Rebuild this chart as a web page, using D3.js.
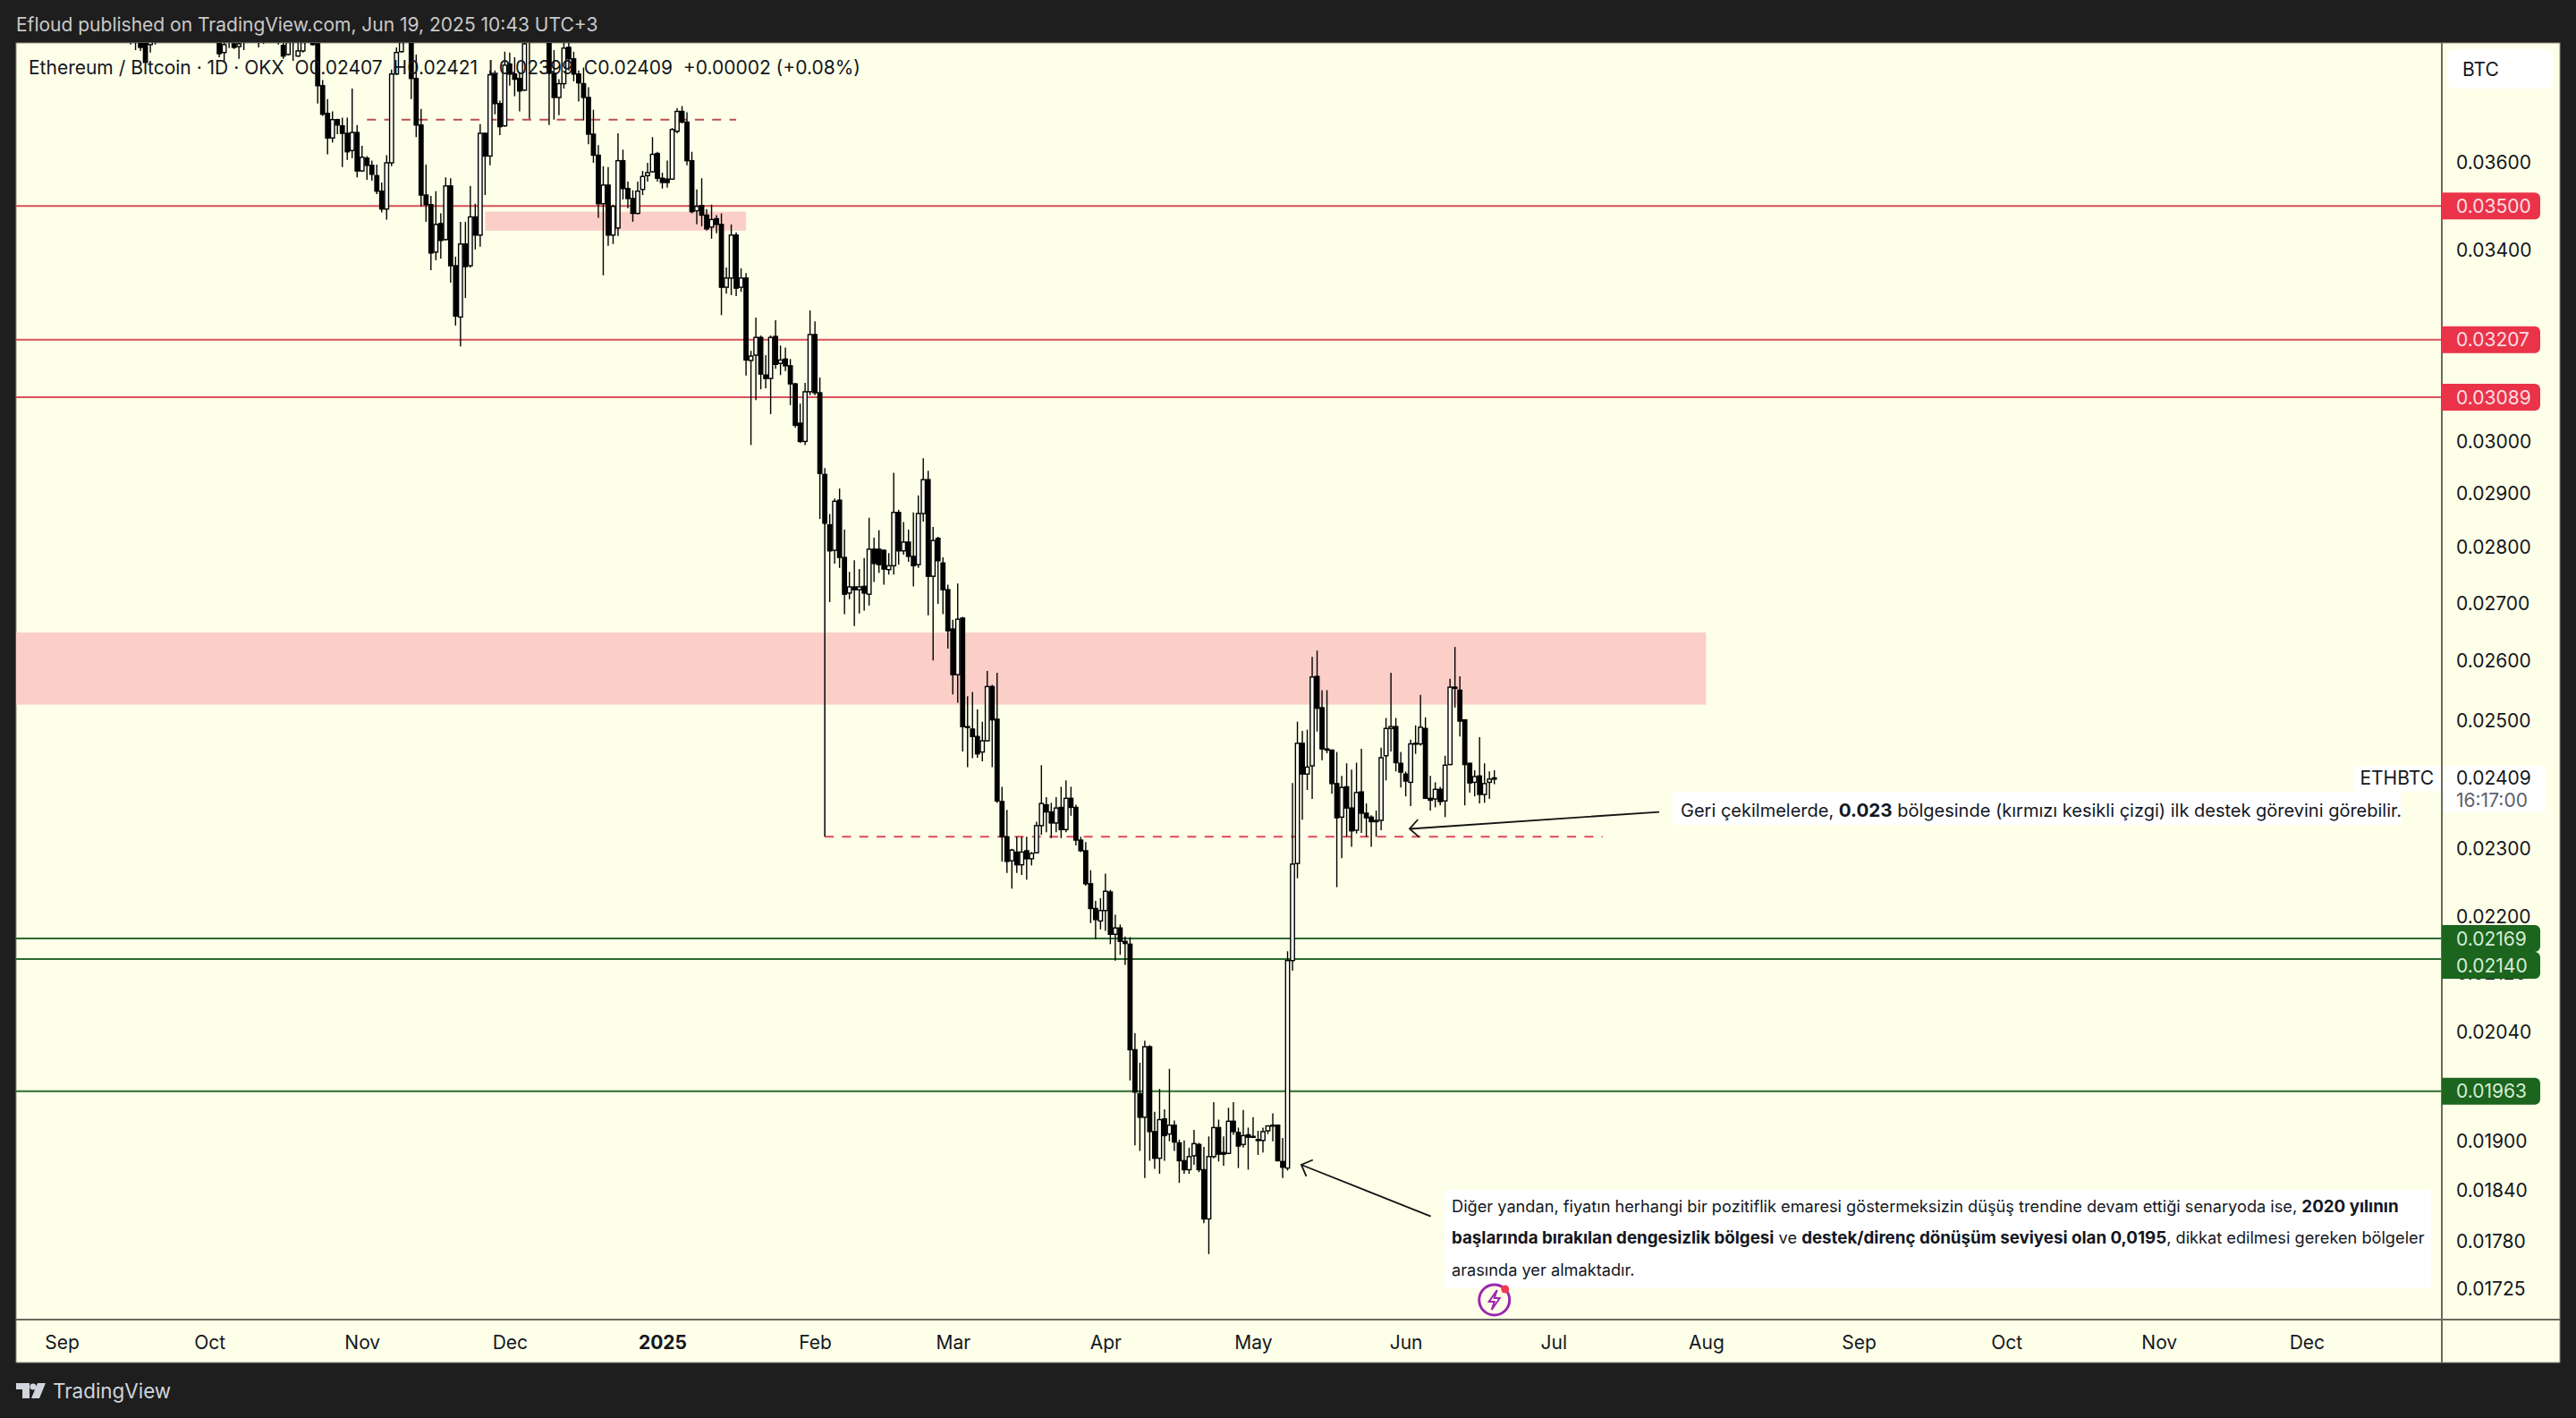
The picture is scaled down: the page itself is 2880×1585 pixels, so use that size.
<!DOCTYPE html>
<html>
<head>
<meta charset="utf-8">
<script src="https://cdn.jsdelivr.net/npm/d3@7"></script>
<style>
  html, body { margin: 0; padding: 0; background: #1e1e1e; }
  svg { display: block; }
  text { font-family: Inter, "Noto Sans", sans-serif; }
</style>
</head>
<body>
<div id="chart"></div>
<script>
// ETHBTC daily bars, one entry per day from 2024-09-15 to 2025-06-19.
// null = the whole bar sits above the visible window
const firstBar = '2024-09-15';
const opens = [
  0.0392,0.0392,0.0394,0.03898,0.03889,0.0392,null,null,null,null,
  null,null,null,null,null,null,null,null,0.0391,0.03869,
  0.0392,0.03891,0.03884,0.0392,null,null,0.0392,0.0392,null,null,
  0.0392,0.03887,0.03864,0.0392,0.0386,0.03873,null,0.03894,0.03891,0.03786,
  0.03718,0.03659,0.03703,0.03688,0.0367,0.03629,0.03672,0.03581,0.03611,0.03594,
  0.0357,0.03534,0.03493,0.036,0.03815,0.03871,null,0.0393,0.03804,0.0369,
  0.03525,0.03503,0.03396,0.0346,0.03424,0.03546,0.03366,0.03255,0.03414,0.03366,
  0.03475,0.03434,0.0367,0.03616,0.03813,0.03742,0.03688,0.0384,0.03815,0.03804,
  0.03775,0.0393,null,null,null,0.0392,0.03817,0.03757,0.03791,0.03882,
  0.03853,0.03815,0.03791,0.03757,0.03668,0.03618,0.03505,0.03548,0.03434,0.0345,
  0.03605,0.0354,0.03517,0.03483,0.03538,0.0357,0.03579,0.03622,0.03564,0.03562,
  0.03562,0.03675,0.03723,0.03697,0.03605,0.03489,0.03501,0.03479,0.03452,0.03471,
  0.03458,0.03319,0.03339,0.03434,0.03319,0.03339,0.03164,0.03175,0.03212,0.03134,
  0.03127,0.03214,0.03158,0.03167,0.03153,0.03116,0.03037,0.03001,0.031,0.03218,
  0.03098,0.02937,0.02842,0.02795,0.02888,0.02782,0.02718,0.02729,0.02724,0.0273,
  0.02716,0.02797,0.02797,0.02795,0.0276,0.02767,0.02865,0.02794,0.0281,0.02784,
  0.02769,0.02863,0.02927,0.02748,0.02817,0.02772,0.02724,0.02655,0.02577,0.02674,
  0.02491,0.02487,0.02475,0.0245,0.02468,0.02557,0.02503,0.02372,0.02318,0.02282,
  0.02295,0.02276,0.02297,0.02285,0.02294,0.02335,0.02367,0.02356,0.02339,0.02363,
  0.02329,0.02377,0.02363,0.02313,0.02297,0.02248,0.02212,0.02194,0.02209,0.02236,
  0.02175,0.02184,0.02165,0.02161,0.02017,0.0196,0.0193,0.02021,0.01912,0.01879,
  0.01928,0.01909,0.0192,0.01898,0.01876,0.01865,0.01882,0.01896,0.01865,0.01806,
  0.01881,0.01917,0.01886,0.01885,0.01925,0.01911,0.01896,0.01908,0.01906,0.01902,
  0.01901,0.01913,0.0192,0.0192,0.01875,0.01867,0.02138,0.02278,0.02464,0.02415,
  0.02428,0.02574,0.02522,0.02455,0.02453,0.024,0.02348,0.02395,0.02362,0.02328,
  0.02387,0.02354,0.02348,0.02341,0.02343,0.02444,0.02488,0.02491,0.02432,0.02415,
  0.02402,0.02463,0.02463,0.02488,0.02377,0.02376,0.02391,0.02373,0.0243,0.02554,
  0.02551,0.02502,0.02432,0.02402,0.02412,0.02383,0.02402,0.02407
];
const highs = [
  0.0398,0.0396,0.0398,0.0392,0.0394,0.0396,null,null,null,null,
  null,null,null,null,null,null,null,null,0.0394,0.0392,
  0.0396,0.0392,0.0392,0.0396,null,null,0.0395,0.0395,null,null,
  0.0395,0.0392,0.0392,0.0395,0.03894,0.0392,null,0.0392,0.0395,0.038,
  0.03753,0.03723,0.03705,0.03708,0.03708,0.03779,0.0369,0.0364,0.03616,0.03605,
  0.03596,0.03554,0.03618,0.03826,0.03882,0.0392,null,0.0396,0.03864,0.03729,
  0.03596,0.03523,0.03534,0.03483,0.03566,0.03564,0.03386,0.03464,0.03464,0.03546,
  0.03505,0.03692,0.03672,0.03824,0.03824,0.03749,0.03871,0.03869,0.03857,0.0382,
  0.0392,0.0396,null,null,null,0.0395,0.03875,0.03802,0.03894,0.03894,
  0.03871,0.03824,0.03831,0.03782,0.03727,0.03642,0.03592,0.0359,0.03503,0.0367,
  0.03631,0.03556,0.03536,0.03556,0.03581,0.036,0.03661,0.03626,0.03577,0.03605,
  0.03683,0.03731,0.03736,0.03721,0.03626,0.03538,0.03564,0.03493,0.03503,0.03479,
  0.03483,0.03362,0.03458,0.0344,0.0336,0.0335,0.03184,0.03254,0.03216,0.03175,
  0.03216,0.03248,0.03195,0.03191,0.03167,0.03118,0.03076,0.03118,0.03269,0.03246,
  0.03129,0.02949,0.02862,0.02891,0.0291,0.02833,0.02756,0.02777,0.02761,0.02781,
  0.02855,0.02818,0.02832,0.02797,0.0279,0.0294,0.0287,0.02847,0.02833,0.02865,
  0.02897,0.02968,0.02944,0.02838,0.0282,0.02782,0.02733,0.02671,0.02735,0.02676,
  0.02541,0.02548,0.02519,0.02499,0.02583,0.0256,0.0258,0.02395,0.02359,0.023,
  0.02318,0.02318,0.02318,0.02295,0.02341,0.02429,0.02379,0.0237,0.02379,0.02395,
  0.02405,0.02395,0.02367,0.02318,0.0231,0.02268,0.02223,0.02227,0.02263,0.02239,
  0.02203,0.02189,0.02172,0.02171,0.02039,0.02,0.02029,0.02023,0.01937,0.01966,
  0.0194,0.01992,0.01926,0.01902,0.01901,0.01892,0.01914,0.01898,0.01893,0.01906,
  0.01949,0.01927,0.01906,0.01942,0.01949,0.01917,0.01939,0.01917,0.0193,0.01913,
  0.01917,0.0192,0.01935,0.01921,0.01904,0.02151,0.02401,0.02499,0.02484,0.02486,
  0.02607,0.02618,0.02551,0.02551,0.02454,0.0245,0.02412,0.02432,0.02422,0.02433,
  0.02455,0.02369,0.02351,0.02358,0.02457,0.02505,0.0258,0.02505,0.0245,0.02419,
  0.0247,0.02493,0.02543,0.02506,0.02412,0.02402,0.02395,0.02444,0.0257,0.02624,
  0.02574,0.02503,0.02433,0.02421,0.02474,0.02432,0.02419,0.02421
];
const lows = [
  0.03889,0.03875,0.03873,0.03842,0.03869,0.03889,null,null,null,null,
  null,null,null,null,null,null,null,null,0.03857,0.03846,
  0.0388,0.03878,0.03853,0.03875,null,null,0.03882,0.03891,null,null,
  0.03889,0.03853,0.03862,0.03848,0.03858,0.03869,null,0.03887,0.03742,0.03712,
  0.0362,0.03648,0.03668,0.0359,0.03607,0.03611,0.03566,0.03579,0.0356,0.03558,
  0.03527,0.03485,0.03469,0.03592,0.03813,0.03869,null,0.03753,0.03661,0.03499,
  0.03464,0.03356,0.03378,0.03382,0.03422,0.03329,0.03237,0.03193,0.03296,0.03362,
  0.03402,0.03408,0.03525,0.03594,0.03716,0.03666,0.03686,0.03786,0.0376,0.03723,
  0.03773,0.03705,null,null,null,0.0369,0.03703,0.03714,0.03779,0.03824,
  0.03797,0.03747,0.03701,0.03644,0.036,0.03473,0.03345,0.0341,0.03414,0.03432,
  0.03515,0.03495,0.03464,0.03481,0.03525,0.03556,0.03577,0.03556,0.0354,0.03542,
  0.0356,0.0367,0.03694,0.03594,0.03483,0.03458,0.03454,0.03444,0.03426,0.03438,
  0.03259,0.03305,0.03302,0.033,0.03309,0.03133,0.02994,0.03083,0.03105,0.03107,
  0.03055,0.03147,0.03134,0.03142,0.03073,0.03028,0.02998,0.02994,0.03093,0.03093,
  0.02853,0.02842,0.02702,0.02771,0.02763,0.02681,0.02707,0.0266,0.02682,0.02687,
  0.02696,0.02738,0.02754,0.02733,0.02751,0.02751,0.02769,0.02787,0.02774,0.0273,
  0.02763,0.02848,0.02679,0.02601,0.02699,0.02681,0.02621,0.02544,0.0253,0.02451,
  0.02426,0.0244,0.02441,0.02435,0.02467,0.02426,0.0237,0.02281,0.02264,0.02241,
  0.02264,0.02261,0.02254,0.02275,0.02293,0.02321,0.02325,0.02316,0.02325,0.02316,
  0.02325,0.0235,0.02305,0.02295,0.02245,0.02191,0.02168,0.02182,0.0218,0.02161,
  0.02138,0.02146,0.02132,0.01977,0.01895,0.01888,0.01855,0.01876,0.01866,0.0186,
  0.01876,0.019,0.01888,0.01849,0.0186,0.0186,0.01871,0.01862,0.01801,0.01765,
  0.01879,0.01875,0.0187,0.01884,0.01908,0.01867,0.01892,0.01865,0.01904,0.01883,
  0.01886,0.01909,0.019,0.01875,0.01855,0.01864,0.02124,0.02256,0.02344,0.0239,
  0.02376,0.02483,0.02437,0.02448,0.02384,0.02243,0.02286,0.02318,0.02303,0.02323,
  0.02324,0.02318,0.02303,0.02318,0.02328,0.02405,0.02451,0.02419,0.02394,0.0238,
  0.02365,0.02447,0.0246,0.02376,0.02358,0.02363,0.02366,0.02348,0.02429,0.02522,
  0.02475,0.02366,0.02386,0.0238,0.02369,0.0237,0.02376,0.02399
];
const closes = [
  0.0394,0.0394,0.03882,0.03844,0.03912,0.0394,null,null,null,null,
  null,null,null,null,null,null,null,null,0.03866,0.03889,
  0.0394,0.03882,0.03891,0.0394,null,null,0.0394,0.0394,null,null,
  0.0394,0.0386,0.03894,0.0394,0.03873,0.03894,null,0.03889,0.03786,0.03716,
  0.03659,0.03703,0.0369,0.0367,0.03626,0.03672,0.03581,0.03613,0.03594,0.03573,
  0.03534,0.03493,0.036,0.03815,0.03869,0.03894,null,0.03804,0.0369,0.03525,
  0.03503,0.03394,0.03458,0.03422,0.03546,0.03366,0.03257,0.03414,0.03364,0.03475,
  0.03434,0.0367,0.03616,0.03813,0.03742,0.03686,0.03837,0.03815,0.03802,0.03773,
  0.03891,0.0392,null,null,null,0.03817,0.03757,0.03791,0.0388,0.03853,
  0.03815,0.03793,0.03757,0.03668,0.03618,0.03505,0.03548,0.03434,0.03499,0.03605,
  0.0354,0.03517,0.03483,0.03534,0.03568,0.03577,0.0362,0.03564,0.03554,0.03554,
  0.03679,0.03723,0.03697,0.03605,0.03487,0.03499,0.03479,0.03448,0.03469,0.03458,
  0.03319,0.03339,0.03434,0.03317,0.03339,0.03165,0.03173,0.03212,0.03136,0.03127,
  0.03212,0.03156,0.03165,0.03153,0.03116,0.03033,0.03001,0.031,0.03218,0.03098,
  0.02939,0.02845,0.02794,0.02886,0.02782,0.02716,0.02729,0.02724,0.02729,0.02718,
  0.02797,0.02771,0.02769,0.02761,0.02767,0.02865,0.02794,0.0281,0.02784,0.02767,
  0.02863,0.02927,0.02748,0.02813,0.02776,0.02724,0.02652,0.02577,0.02672,0.02491,
  0.0249,0.02475,0.02447,0.02468,0.02557,0.02502,0.02373,0.02318,0.02281,0.02298,
  0.02276,0.02295,0.02285,0.02293,0.02335,0.02369,0.02356,0.02339,0.02362,0.02329,
  0.02377,0.02363,0.02313,0.02297,0.02248,0.02212,0.02196,0.02209,0.02237,0.02175,
  0.02184,0.02165,0.02162,0.02017,0.01962,0.0193,0.02021,0.01912,0.01879,0.01927,
  0.01907,0.0192,0.01899,0.01876,0.01865,0.01881,0.01897,0.01865,0.01806,0.01881,
  0.01917,0.01884,0.01884,0.01925,0.01912,0.01894,0.01907,0.01905,0.01905,0.01901,
  0.01912,0.01919,0.01919,0.01876,0.01868,0.02138,0.02277,0.02464,0.02415,0.02426,
  0.02573,0.02521,0.02455,0.02453,0.024,0.02347,0.02394,0.02362,0.02327,0.02386,
  0.02354,0.02347,0.02341,0.02343,0.02441,0.02488,0.02491,0.02433,0.02418,0.02404,
  0.02463,0.02464,0.0249,0.02377,0.02374,0.02391,0.02372,0.02429,0.02556,0.02556,
  0.025,0.0243,0.02401,0.02411,0.02383,0.024,0.02407,0.02409
];

const priceTicks = [0.036, 0.034, 0.03, 0.029, 0.028, 0.027, 0.026, 0.025, 0.023, 0.022, 0.0212, 0.0204, 0.019, 0.0184, 0.0178, 0.01725];
const monthTicks = ['2024-09-01','2024-10-01','2024-11-01','2024-12-01','2025-01-01','2025-02-01','2025-03-01','2025-04-01','2025-05-01','2025-06-01','2025-07-01','2025-08-01','2025-09-01','2025-10-01','2025-11-01','2025-12-01'];
const monthLabels = ['Sep','Oct','Nov','Dec','2025','Feb','Mar','Apr','May','Jun','Jul','Aug','Sep','Oct','Nov','Dec'];

// horizontal levels the author drew, with their price tags
const redLevels = [0.035, 0.03207, 0.03089];
const greenLevels = [0.02169, 0.0214, 0.01963];
const lastClose = 0.02409;

// supply zones: [start date, end date, top price, bottom price]
const zones = [
  ['2024-08-01', '2025-08-01', 0.02649, 0.02527],
  ['2024-11-26', '2025-01-18', 0.03487, 0.03444]
];
// dashed levels: [start date, end date, price]
const dashedTop = ['2024-11-02', '2025-01-16', 0.03703];
const dashedSupport = ['2025-02-03', '2025-07-11', 0.02318];
const supportStem = ['2025-02-03', 0.02845, 0.02318];

const arrowOne = { from: ['2025-07-22T12:00Z', 0.02356], to: ['2025-06-01T19:00Z', 0.0233] };
const arrowTwo = { from: ['2025-06-06T02:00Z', 0.01809], to: ['2025-05-10T19:00Z', 0.01871] };

const noteOne = [[['Geri çekilmelerde, ', false], ['0.023', true], [' bölgesinde (kırmızı kesikli çizgi) ilk destek görevini görebilir.', false]]];
const noteTwo = [
  [['Diğer yandan, fiyatın herhangi bir pozitiflik emaresi göstermeksizin düşüş trendine devam ettiği senaryoda ise, ', false], ['2020 yılının', true]],
  [['başlarında bırakılan dengesizlik bölgesi', true], [' ve ', false], ['destek/direnç dönüşüm seviyesi olan 0,0195', true], [', dikkat edilmesi gereken bölgeler', false]],
  [['arasında yer almaktadır.', false]]
];

const width = 2880;
const height = 1585;
const plot = { left: 18, right: 2730, top: 48, bottom: 1475, edge: 2862, base: 1523 };
const paper = '#feffe8';
const ink = '#131722';

const parse = s => new Date(s.length > 10 ? s : s + 'T00:00Z');

const x = d3.scaleUtc()
  .domain([parse('2024-09-01'), parse('2025-09-01')])
  .range([69, 2078]);

const y = d3.scaleLog()
  .domain([0.036, 0.01725])
  .range([182, 1441]);

const bars = opens.map((o, i) => ({
  date: d3.utcDay.offset(parse(firstBar), i),
  o, h: highs[i], l: lows[i], c: closes[i]
})).filter(d => d.o !== null);

const svg = d3.select('#chart')
  .append('svg')
  .attr('width', width)
  .attr('height', height);

svg.append('rect').attr('width', width).attr('height', height).attr('fill', '#1e1e1e');

svg.append('rect')
  .attr('x', plot.left).attr('y', plot.top)
  .attr('width', plot.edge - plot.left).attr('height', plot.base - plot.top)
  .attr('fill', paper)
  .attr('stroke', '#8b8b7c').attr('stroke-width', 1);

svg.append('clipPath').attr('id', 'plot-clip')
  .append('rect')
  .attr('x', plot.left).attr('y', plot.top)
  .attr('width', plot.right - plot.left).attr('height', plot.bottom - plot.top);

const pane = svg.append('g').attr('clip-path', 'url(#plot-clip)');

// zones and levels sit behind the bars
pane.selectAll('rect.zone')
  .data(zones)
  .join('rect')
  .attr('class', 'zone')
  .attr('x', d => x(parse(d[0])))
  .attr('y', d => y(d[2]))
  .attr('width', d => x(parse(d[1])) - x(parse(d[0])))
  .attr('height', d => y(d[3]) - y(d[2]))
  .attr('fill', '#fbcfc7');

function levelLines(values, color) {
  pane.selectAll(null)
    .data(values)
    .join('line')
    .attr('x1', plot.left).attr('x2', plot.right)
    .attr('y1', d => y(d)).attr('y2', d => y(d))
    .attr('stroke', color).attr('stroke-width', 2);
}
levelLines(redLevels, '#d9505c');
levelLines(greenLevels, '#2c6a2e');

pane.append('line')
  .attr('x1', x(parse(dashedTop[0]))).attr('x2', x(parse(dashedTop[1])))
  .attr('y1', y(dashedTop[2])).attr('y2', y(dashedTop[2]))
  .attr('stroke', '#b8504f').attr('stroke-width', 2).attr('stroke-dasharray', '10 9.3');

pane.append('line')
  .attr('x1', x(parse(dashedSupport[0]))).attr('x2', x(parse(dashedSupport[1])))
  .attr('y1', y(dashedSupport[2])).attr('y2', y(dashedSupport[2]))
  .attr('stroke', '#e2475c').attr('stroke-width', 2).attr('stroke-dasharray', '10 9.3');

pane.append('line')
  .attr('x1', x(parse(supportStem[0]))).attr('x2', x(parse(supportStem[0])))
  .attr('y1', y(supportStem[1])).attr('y2', y(supportStem[2]))
  .attr('stroke', '#111').attr('stroke-width', 1.6);

// candles: hollow when the day closed up, solid when it closed down
const candle = pane.append('g').selectAll('g')
  .data(bars)
  .join('g');

candle.append('line')
  .attr('x1', d => x(d.date)).attr('x2', d => x(d.date))
  .attr('y1', d => y(d.h)).attr('y2', d => y(d.l))
  .attr('stroke', '#000').attr('stroke-width', 1.4);

candle.append('rect')
  .attr('x', d => x(d.date) - 2.2)
  .attr('width', 4.4)
  .attr('y', d => y(Math.max(d.o, d.c)))
  .attr('height', d => Math.max(1, Math.abs(y(d.o) - y(d.c))))
  .attr('fill', d => d.c > d.o ? '#fffff4' : '#000')
  .attr('stroke', '#000').attr('stroke-width', 1.4);

// panel separators
svg.append('line').attr('x1', plot.right).attr('x2', plot.right).attr('y1', plot.top).attr('y2', plot.base)
  .attr('stroke', '#6a6a60').attr('stroke-width', 2);
svg.append('line').attr('x1', plot.left).attr('x2', plot.edge).attr('y1', plot.bottom).attr('y2', plot.bottom)
  .attr('stroke', '#6a6a60').attr('stroke-width', 2);

// axes
const yAxis = svg.append('g')
  .attr('transform', `translate(${plot.right},0)`)
  .call(d3.axisRight(y).tickValues(priceTicks).tickSize(0).tickPadding(16).tickFormat(d => d.toFixed(5)));
yAxis.select('.domain').remove();
yAxis.selectAll('text').attr('fill', ink).style('font-size', '21px').style('font-family', 'Inter');

const xAxis = svg.append('g')
  .attr('transform', `translate(0,${plot.bottom})`)
  .call(d3.axisBottom(x)
    .tickValues(monthTicks.map(parse))
    .tickSize(0).tickPadding(18)
    .tickFormat((d, i) => monthLabels[i]));
xAxis.select('.domain').remove();
xAxis.selectAll('text')
  .attr('fill', ink)
  .style('font-size', '21px').style('font-family', 'Inter')
  .style('font-weight', (d, i) => monthLabels[i] === '2025' ? 700 : 400);

// price tags on the axis
function priceTag(value, color, textColor, tagY) {
  const g = svg.append('g').attr('transform', `translate(${plot.right},${tagY})`);
  g.append('path')
    .attr('d', 'M0,-15H104a6,6 0 0 1 6,6V9a6,6 0 0 1 -6,6H0Z')
    .attr('fill', color);
  g.append('text')
    .attr('x', 16).attr('dy', '0.36em')
    .attr('fill', textColor).style('font-size', '21px')
    .text(value.toFixed(5));
}
redLevels.forEach(v => priceTag(v, '#ea3349', '#fbdde0', y(v)));
// the two close green tags push each other apart, as on the original
priceTag(greenLevels[0], '#1b651f', '#d7ecd3', y(greenLevels[0]));
priceTag(greenLevels[1], '#1b651f', '#d7ecd3', y(greenLevels[0]) + 30);
priceTag(greenLevels[2], '#1b651f', '#d7ecd3', y(greenLevels[2]));

// last price block
const lastY = y(lastClose);
svg.append('rect').attr('x', 2732).attr('y', lastY - 13).attr('width', 114).attr('height', 52).attr('fill', '#fff');
svg.append('text').attr('x', 2746).attr('y', lastY).attr('dy', '0.36em').attr('fill', ink).style('font-size', '21px').text(lastClose.toFixed(5));
svg.append('text').attr('x', 2746).attr('y', lastY + 25).attr('dy', '0.36em').attr('fill', '#5d606b').style('font-size', '21px').text('16:17:00');
svg.append('rect').attr('x', 2632).attr('y', lastY - 13).attr('width', 97).attr('height', 28).attr('fill', '#fff');
svg.append('text').attr('x', 2721).attr('y', lastY).attr('dy', '0.36em').attr('text-anchor', 'end').attr('fill', ink).style('font-size', '21px').text('ETHBTC');

// currency chip
svg.append('rect').attr('x', 2737).attr('y', 55).attr('width', 117).attr('height', 44).attr('rx', 7).attr('fill', '#fff');
svg.append('text').attr('x', 2753).attr('y', 77).attr('dy', '0.36em').attr('fill', ink).style('font-size', '21px').text('BTC');

// annotation boxes
function note(lines, boxX, boxY, boxW, boxH, textX, firstY, lineStep, size) {
  svg.append('rect').attr('x', boxX).attr('y', boxY).attr('width', boxW).attr('height', boxH).attr('fill', '#fff');
  const t = svg.append('g').selectAll('text')
    .data(lines)
    .join('text')
    .attr('x', textX)
    .attr('y', (d, i) => firstY + i * lineStep)
    .attr('dy', '0.36em')
    .attr('fill', ink)
    .style('font-size', size + 'px');
  t.selectAll('tspan')
    .data(d => d)
    .join('tspan')
    .style('font-weight', d => d[1] ? 700 : 400)
    .style('font-size', d => (d[1] ? size * 1.03 : size) + 'px')
    .text(d => d[0]);
}
note(noteOne, 1870, 885, 814, 37, 1879, 906, 0, 20);
note(noteTwo, 1615, 1330, 1103, 110, 1623, 1348, 35.5, 18.2);

function arrow(a) {
  const x0 = x(parse(a.from[0])), y0 = y(a.from[1]);
  const x1 = x(parse(a.to[0])), y1 = y(a.to[1]);
  const angle = Math.atan2(y0 - y1, x0 - x1);
  const wing = s => [x1 + 14 * Math.cos(angle + s), y1 + 14 * Math.sin(angle + s)];
  const line = d3.line();
  svg.append('path')
    .attr('d', line([[x0, y0], [x1, y1]]) + line([wing(0.78), [x1, y1], wing(-0.78)]))
    .attr('fill', 'none').attr('stroke', '#131313').attr('stroke-width', 1.8);
}
arrow(arrowOne);
arrow(arrowTwo);

// event marker under the last bar
const markerX = x(bars[bars.length - 1].date);
const marker = svg.append('g').attr('transform', `translate(${markerX},1453)`);
marker.append('circle').attr('r', 17).attr('fill', paper).attr('stroke', '#9c27b0').attr('stroke-width', 3);
marker.append('path').attr('d', 'M3,-11L-6,2H0L-3,11L6,-2H0Z').attr('fill', 'none').attr('stroke', '#9c27b0').attr('stroke-width', 2);
marker.append('circle').attr('cx', 12).attr('cy', -12).attr('r', 4.5).attr('fill', '#ee3d50');

// header, legend, footer
svg.append('text').attr('x', 18).attr('y', 27).attr('dy', '0.36em')
  .attr('fill', '#c9c9c9').style('font-size', '21px')
  .text('Efloud published on TradingView.com, Jun 19, 2025 10:43 UTC+3');

svg.append('text').attr('x', 32).attr('y', 75).attr('dy', '0.36em')
  .attr('fill', ink).style('font-size', '21px').attr('xml:space', 'preserve')
  .style('white-space', 'pre')
  .text('Ethereum / Bitcoin · 1D · OKX  O0.02407  H0.02421  L0.02399  C0.02409  +0.00002 (+0.08%)');

const logo = svg.append('g').attr('fill', '#d1d4dc');
logo.append('path').attr('d', 'M18,1546H33V1563H25V1553H18Z');
logo.append('circle').attr('cx', 37).attr('cy', 1550).attr('r', 3.6);
logo.append('path').attr('d', 'M42,1546H51L44,1563H35Z');
svg.append('text').attr('x', 59).attr('y', 1555).attr('dy', '0.36em')
  .attr('fill', '#d1d4dc').style('font-size', '22.4px')
  .text('TradingView');
</script>
</body>
</html>
